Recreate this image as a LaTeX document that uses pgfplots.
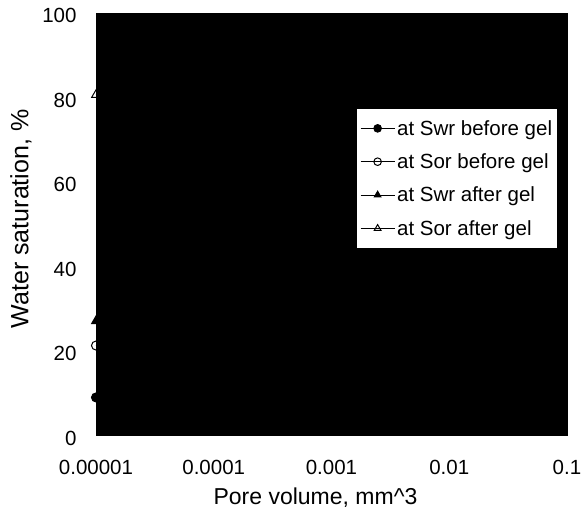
\documentclass[border=0pt]{standalone}
\usepackage{pgfplots}
\pgfplotsset{compat=1.18}
\usepackage{fontspec}
\setmainfont{Liberation Sans}

\begin{document}
\begin{tikzpicture}
\begin{axis}[
  scale only axis,
  width=471bp, height=422bp,
  xmode=log,
  xmin=1e-5, xmax=0.1,
  ymin=0, ymax=100,
  xtick={1e-5,1e-4,1e-3,1e-2,1e-1},
  xticklabels={0.00001,0.0001,0.001,0.01,0.1},
  ytick={0,20,40,60,80,100},
  major tick length=0pt,
  minor tick length=0pt,
  axis background/.style={fill=black},
  axis line style={black},
  /pgf/number format/assume math mode=true,
  ticklabel style={font=\fontsize{20.5bp}{24bp}\selectfont},
  xticklabel style={anchor=base, yshift=-39bp},
  yticklabel style={anchor=base east, xshift=-16bp, yshift=-10bp},
  xlabel={Pore volume, mm\textasciicircum 3},
  ylabel={Water saturation, \%},
  every axis x label/.style={at={(rel axis cs:0.466,0)}, anchor=base, yshift=-69bp,
    font=\fontsize{23bp}{27bp}\selectfont},
  every axis y label/.style={at={(axis description cs:-0.1435,0.512)}, rotate=90, anchor=base,
    font=\fontsize{25bp}{29bp}\selectfont},
  legend style={
    at={(rel axis cs:0.554,0.7725)}, anchor=north west,
    fill=white, draw=none,
    font=\fontsize{20.5bp}{24bp}\selectfont,
    row sep=13bp, inner xsep=3bp, inner ysep=9bp,
    cells={anchor=west},
  },
  legend image code/.code={
    \draw[mark repeat=2,mark phase=2,mark size=3.8bp,#1]
      plot coordinates {(0bp,0bp) (17bp,0bp) (34bp,0bp)};
  },
  every axis plot/.append style={black, line width=1pt},
]
% irreducible water saturation, before gel treatment
\addplot[mark=*, mark size=4.5bp, mark options={fill=black}] coordinates {
  (1e-5,8.9) (1e-4,10.5) (1e-3,14) (1e-2,22) (0.05,35)
};
\addlegendentry{at Swr before gel}
% residual oil saturation, before gel treatment
\addplot[mark=o, mark size=4.5bp, mark options={fill=white}] coordinates {
  (1e-5,21.2) (1e-4,25) (1e-3,33) (1e-2,48) (0.05,62)
};
\addlegendentry{at Sor before gel}
% irreducible water saturation, after gel treatment
\addplot[mark=triangle*, mark size=5bp, mark options={fill=black}] coordinates {
  (1e-5,27) (1e-4,30) (1e-3,36) (1e-2,45) (0.05,55)
};
\addlegendentry{at Swr after gel}
% residual oil saturation, after gel treatment
\addplot[mark=triangle, mark size=5bp, mark options={fill=white}] coordinates {
  (1e-5,80.6) (1e-4,82) (1e-3,85) (1e-2,88) (0.05,90)
};
\addlegendentry{at Sor after gel}
\end{axis}
\pgfresetboundingbox
\path ([shift={(-96bp,-76bp)}]current axis.south west)
  rectangle ([shift={(17bp,13bp)}]current axis.north east);
\end{tikzpicture}
\end{document}
